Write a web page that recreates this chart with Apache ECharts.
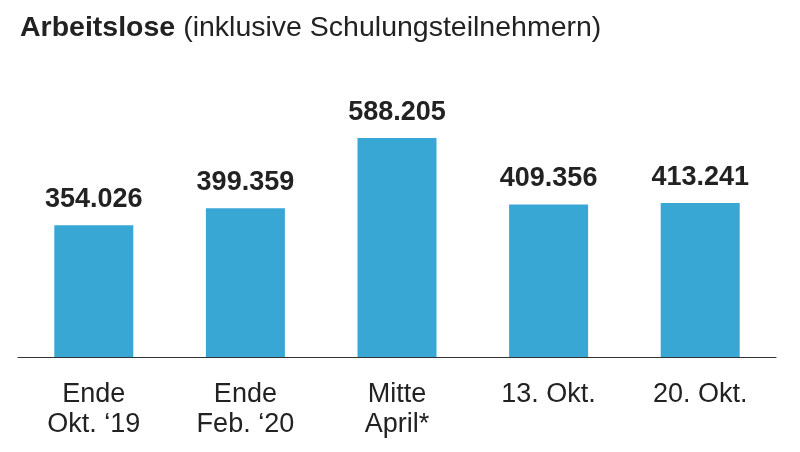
<!DOCTYPE html>
<html>
<head>
<meta charset="utf-8">
<script src="https://cdn.jsdelivr.net/npm/echarts@6/dist/echarts.min.js"></script>
<style>html,body{margin:0;padding:0;background:#fff}#c{width:800px;height:452px}</style>
</head>
<body>
<div id="c"></div>
<script>
var categories = ['Ende\nOkt. \u201819', 'Ende\nFeb. \u201820', 'Mitte\nApril*', '13. Okt.', '20. Okt.'];
var values = [354026, 399359, 588205, 409356, 413241];
var titleBold = 'Arbeitslose';
var titleRest = ' (inklusive Schulungsteilnehmern)';

function fmt(v) {
  return String(v).replace(/\B(?=(\d{3})+(?!\d))/g, '.');
}

var chart = echarts.init(document.getElementById('c'), null, {renderer: 'canvas'});
chart.setOption({
  backgroundColor: '#ffffff',
  animation: false,
  title: {
    text: '{b|' + titleBold + '}{n|' + titleRest + '}',
    left: 15,
    top: 9,
    textStyle: {
      rich: {
        b: {fontFamily: 'Liberation Sans', fontWeight: 'bold', fontSize: 28.5, color: '#222'},
        n: {fontFamily: 'Liberation Sans', fontWeight: 'normal', fontSize: 28.5, color: '#222'}
      }
    }
  },
  grid: {left: 18, right: 24, top: 100, bottom: 95},
  xAxis: {
    type: 'category',
    data: categories,
    axisLine: {show: true, lineStyle: {color: '#333', width: 1}},
    axisTick: {show: false},
    axisLabel: {
      margin: 23,
      fontFamily: 'Liberation Sans',
      fontSize: 27,
      lineHeight: 30,
      color: '#222',
      interval: 0
    }
  },
  yAxis: {
    type: 'value',
    min: 0,
    max: 690000,
    show: false,
    splitLine: {show: false}
  },
  series: [{
    type: 'bar',
    data: values,
    barWidth: 79,
    itemStyle: {color: '#39a7d4'},
    label: {
      show: true,
      position: 'top',
      distance: 12,
      fontFamily: 'Liberation Sans',
      fontWeight: 'bold',
      fontSize: 27,
      color: '#222',
      formatter: function (p) { return fmt(p.value); }
    }
  }]
});
</script>
</body>
</html>
